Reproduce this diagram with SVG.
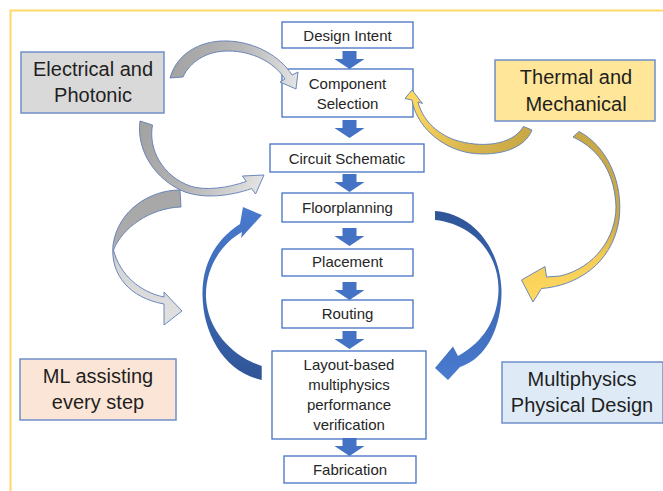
<svg xmlns="http://www.w3.org/2000/svg" width="663" height="491" viewBox="0 0 663 491">
  <defs>
    <style>
      .step { fill: #ffffff; stroke: #4472c4; stroke-width: 1.3; }
      .t { font-family: "Liberation Sans", Arial, sans-serif; font-size: 15px; fill: #262626; text-anchor: middle; }
      .big { font-family: "Liberation Sans", Arial, sans-serif; font-size: 20px; fill: #1f1f1f; text-anchor: middle; }
      .side { stroke: #6f8fc9; stroke-width: 1.5; }
      .flow { fill: #4472c4; }
      .arc { stroke: #5f7db5; stroke-width: 0.9; stroke-linejoin: round; }
    </style>
    <path id="down" d="M-7,0 H7 V8 H15 L0,18 L-15,8 H-7 Z"/>
    <linearGradient id="gGray1" gradientUnits="userSpaceOnUse" x1="172" y1="70" x2="296" y2="85">
      <stop offset="0" stop-color="#a3a3a3"/>
      <stop offset="0.55" stop-color="#b8b8b8"/>
      <stop offset="1" stop-color="#e3e3e3"/>
    </linearGradient>
    <linearGradient id="gGray2" gradientUnits="userSpaceOnUse" x1="146" y1="125" x2="262" y2="180">
      <stop offset="0" stop-color="#a3a3a3"/>
      <stop offset="0.5" stop-color="#b5b5b5"/>
      <stop offset="1" stop-color="#e3e3e3"/>
    </linearGradient>
    <linearGradient id="gGray3" gradientUnits="userSpaceOnUse" x1="0" y1="190" x2="0" y2="325">
      <stop offset="0" stop-color="#a6a6a6"/>
      <stop offset="0.38" stop-color="#acacac"/>
      <stop offset="0.55" stop-color="#d4d4d4"/>
      <stop offset="1" stop-color="#e2e2e2"/>
    </linearGradient>
    <linearGradient id="gGold1" gradientUnits="userSpaceOnUse" x1="528" y1="130" x2="412" y2="95">
      <stop offset="0" stop-color="#c9a846"/>
      <stop offset="0.45" stop-color="#d9b64e"/>
      <stop offset="1" stop-color="#ffd95e"/>
    </linearGradient>
    <linearGradient id="gGold2" gradientUnits="userSpaceOnUse" x1="0" y1="130" x2="0" y2="300">
      <stop offset="0" stop-color="#c9a846"/>
      <stop offset="0.55" stop-color="#ccaa48"/>
      <stop offset="0.75" stop-color="#f3cd58"/>
      <stop offset="1" stop-color="#ffd95e"/>
    </linearGradient>
    <linearGradient id="gBlue1" gradientUnits="userSpaceOnUse" x1="0" y1="380" x2="0" y2="207">
      <stop offset="0" stop-color="#2f5597"/>
      <stop offset="1" stop-color="#4a7bd0"/>
    </linearGradient>
    <linearGradient id="gBlue2" gradientUnits="userSpaceOnUse" x1="0" y1="211" x2="0" y2="380">
      <stop offset="0" stop-color="#2f5597"/>
      <stop offset="1" stop-color="#4a7bd0"/>
    </linearGradient>
  </defs>

  <rect width="663" height="491" fill="#ffffff"/>
  <!-- outer frame -->
  <rect x="10.5" y="10.5" width="700" height="520" fill="none" stroke="#ffd966" stroke-width="2"/>

  <!-- process steps -->
  <g id="design-intent">
    <rect class="step" x="282" y="22" width="131" height="26"/>
    <text class="t" x="347.5" y="41">Design Intent</text>
  </g>
  <g id="component-selection">
    <rect class="step" x="282" y="69" width="131" height="48"/>
    <text class="t" x="347.5" y="89">Component</text>
    <text class="t" x="347.5" y="109">Selection</text>
  </g>
  <g id="circuit-schematic">
    <rect class="step" x="270" y="144" width="154" height="28"/>
    <text class="t" x="347" y="164">Circuit Schematic</text>
  </g>
  <g id="floorplanning">
    <rect class="step" x="282" y="193" width="131" height="29"/>
    <text class="t" x="347.5" y="213">Floorplanning</text>
  </g>
  <g id="placement">
    <rect class="step" x="282" y="249" width="131" height="27"/>
    <text class="t" x="347.5" y="267">Placement</text>
  </g>
  <g id="routing">
    <rect class="step" x="282" y="300" width="131" height="28"/>
    <text class="t" x="347.5" y="319">Routing</text>
  </g>
  <g id="verification">
    <rect class="step" x="272" y="351" width="154" height="88"/>
    <text class="t" x="349" y="370">Layout-based</text>
    <text class="t" x="349" y="390">multiphysics</text>
    <text class="t" x="349" y="410">performance</text>
    <text class="t" x="349" y="430">verification</text>
  </g>
  <g id="fabrication">
    <rect class="step" x="284" y="456" width="132" height="27"/>
    <text class="t" x="350" y="475">Fabrication</text>
  </g>

  <!-- side topics -->
  <g id="electrical-photonic">
    <rect class="side" x="21" y="52" width="143" height="61" fill="#d9d9d9"/>
    <text class="big" x="93" y="76">Electrical and</text>
    <text class="big" x="93" y="102">Photonic</text>
  </g>
  <g id="thermal-mechanical">
    <rect class="side" x="495" y="60" width="160" height="61" fill="#ffe699"/>
    <text class="big" x="576" y="84">Thermal and</text>
    <text class="big" x="576" y="110.5">Mechanical</text>
  </g>
  <g id="ml-assist">
    <rect class="side" x="20" y="359" width="156" height="61" fill="#fbe5d6"/>
    <text class="big" x="98" y="383">ML assisting</text>
    <text class="big" x="98" y="409">every step</text>
  </g>
  <g id="multiphysics">
    <rect class="side" x="502" y="362" width="161" height="61" fill="#deebf7"/>
    <text class="big" x="582" y="386">Multiphysics</text>
    <text class="big" x="582" y="412">Physical Design</text>
  </g>

  <g id="connectors">
    <!-- straight flow between steps -->
    <use href="#down" class="flow" transform="translate(349.5,51)"/>
    <use href="#down" class="flow" transform="translate(349.5,120)"/>
    <use href="#down" class="flow" transform="translate(349.5,174)"/>
    <use href="#down" class="flow" transform="translate(349.5,228)"/>
    <use href="#down" class="flow" transform="translate(349.5,282)"/>
    <use href="#down" class="flow" transform="translate(349.5,331)"/>
    <use href="#down" class="flow" transform="translate(349.5,438)"/>

    <!-- electrical/photonic to component selection -->
    <path class="arc" fill="url(#gGray1)" d="M170,78 C178,50 205,40 228,41 C255,42 280,56 292,75 L298,72 L296,89 L280,82 L285,79 C274,62 252,51 228,51 C206,51 190,62 183,77 Z"/>
    <!-- electrical/photonic to circuit schematic -->
    <path class="arc" fill="url(#gGray2)" d="M140,121 C136,150 155,180 185,192 C205,199 230,196 251.7,188.6 L255.6,194 L264,175 L242.4,176 L246.3,181.4 C228,188 205,191 190,186 C163,176 148,150 152.5,125 Z"/>
    <!-- electrical/photonic loop toward lower steps -->
    <path class="arc" fill="url(#gGray3)" d="M180,190 C150,190 118,210 113,245 C110,275 130,298 164,304 L164,325 L182,311 L164,292 L164,297 C140,292 120,275 113.5,250 C122,228 150,208 181,207 Z"/>

    <!-- thermal/mechanical to component selection -->
    <path class="arc" fill="url(#gGold1)" d="M523.5,126.5 C512,146 480,148 455,140 C435,133 422,118 418,102 L422.5,103.5 L412,90 L405,98.5 L412,100 C416,125 440,148 470,153 C500,157 525,148 532,130 Z"/>
    <!-- thermal/mechanical toward physical design -->
    <path class="arc" fill="url(#gGold2)" d="M573,137 C601,150 615,175 616,207 C616,237 595,268 560,276 L546.5,277 L545,266.5 L521.5,280 L533,302 L541.5,288.5 C575,286 612,265 619,220 C624,180 605,145 579,131.5 Z"/>

    <!-- verification feedback to floorplanning -->
    <path fill="url(#gBlue1)" d="M261.7,366 C234,357 208,332 206,298 C205,268 221,244 242,232 L241,238 L262,215 L243,207 L240,224 C215,240 202,265 202.5,295 C203,335 225,372 261.7,380 Z"/>
    <!-- floorplanning forward to verification -->
    <path fill="url(#gBlue2)" d="M435,211 C475,214 500,250 501.5,290 C502,325 488,358 460,367 L448,380 L435,368 L453,346.5 L458,356 C484,342 498,318 498.5,290 C499,255 474,224 435,220 Z"/>
  </g>
</svg>
